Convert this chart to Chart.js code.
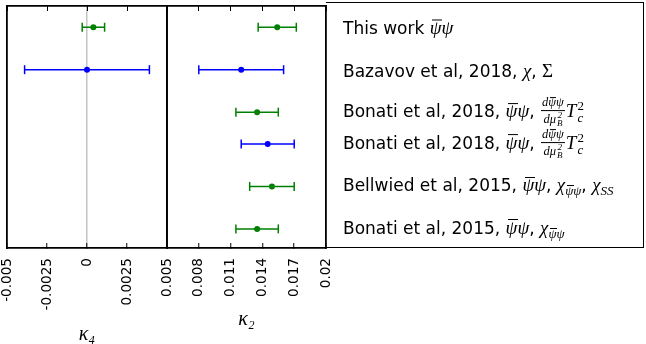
<!DOCTYPE html>
<html>
<head>
<meta charset="utf-8">
<script src="https://cdn.jsdelivr.net/npm/chart.js@4.4.1/dist/chart.umd.min.js"></script>
<style>
  html, body { margin: 0; padding: 0; background: #fff; }
  #wrap { position: relative; width: 646px; height: 344px; background: #fff; overflow: hidden; }
  canvas { position: absolute; top: 0; }
  #box { position: absolute; left: 325.5px; top: 2.2px; width: 317px; height: 244.2px;
         border: 1.8px solid #000; border-left: none; }
  .lab { position: absolute; left: 343px; font-family: 'DejaVu Sans', sans-serif; font-size: 17px;
         color: #000; white-space: nowrap; line-height: 1; transform: translateY(-50%); }
  .m { font-family: 'Liberation Serif', 'DejaVu Serif', serif; font-style: italic; font-size: 19px; }
  .up { font-family: 'Liberation Serif', 'DejaVu Serif', serif; font-style: normal; font-size: 19px; }
  .ov { position: relative; display: inline-block; }
  .ov::before { content: ''; position: absolute; left: 0.12em; right: -0.02em; top: 0.08em; border-top: 1px solid #000; }
  .frac { display: inline-block; vertical-align: middle; text-align: center; font-size: 12.5px; line-height: 1.1;
          font-family: 'Liberation Serif', 'DejaVu Serif', serif; font-style: italic; margin: 0 1px; }
  .frac .num { display: block; border-bottom: 1px solid #000; padding: 0 1px; }
  .frac .den { display: block; padding: 0 1px; }
  .ss { display: inline-flex; flex-direction: column; vertical-align: middle; font-size: 13px; line-height: 0.95;
        font-family: 'Liberation Serif', 'DejaVu Serif', serif; margin-left: 1px; }
  .ss.sm { font-size: 9px; }
  .sb { font-size: 13px; vertical-align: -4px; font-family: 'Liberation Serif', 'DejaVu Serif', serif; font-style: italic; }
</style>
</head>
<body>
<div id="wrap">
  <canvas id="c1" width="190" height="344" style="left:0px"></canvas>
  <canvas id="c2" width="200" height="344" style="left:150px"></canvas>
  <div id="box"></div>
</div>
<script>
// ---- data ----
const rowNames = ['This work', 'Bazavov et al, 2018', 'Bonati et al, 2018 (a)', 'Bonati et al, 2018 (b)', 'Bellwied et al, 2015', 'Bonati et al, 2015'];
const rowPos = [5.2, 4.2, 3.2, 2.45, 1.45, 0.45];
const rowColors = ['#008000', '#0000ff', '#008000', '#0000ff', '#008000', '#008000'];
const rowLabels = [
  'This work <span class="m"><span class="ov">ψ</span>ψ</span>',
  'Bazavov et al, 2018, <span class="m">χ</span>, <span class="up">Σ</span>',
  'Bonati et al, 2018, <span class="m"><span class="ov">ψ</span>ψ</span>, <span class="frac"><span class="num">d<span class="ov">ψ</span>ψ</span><span class="den">dμ<span class="ss sm"><span>2</span><span>B</span></span></span></span><span class="m">T</span><span class="ss"><span>2</span><span><i>c</i></span></span>',
  'Bonati et al, 2018, <span class="m"><span class="ov">ψ</span>ψ</span>, <span class="frac"><span class="num">d<span class="ov">ψ</span>ψ</span><span class="den">dμ<span class="ss sm"><span>2</span><span>B</span></span></span></span><span class="m">T</span><span class="ss"><span>2</span><span><i>c</i></span></span>',
  'Bellwied et al, 2015, <span class="m"><span class="ov">ψ</span>ψ</span>, <span class="m">χ</span><span class="sb"><span class="ov">ψ</span>ψ</span>, <span class="m">χ</span><span class="sb">SS</span>',
  'Bonati et al, 2015, <span class="m"><span class="ov">ψ</span>ψ</span>, <span class="m">χ</span><span class="sb"><span class="ov">ψ</span>ψ</span>'
];
// kappa_4 (null = no value)
const k4Value = [0.0004, 0.0, null, null, null, null];
const k4Err   = [0.0007, 0.0039, null, null, null, null];
// kappa_2
const k2Value = [0.0154, 0.0120, 0.0135, 0.0145, 0.0149, 0.0135];
const k2Err   = [0.0018, 0.0040, 0.0020, 0.0025, 0.0021, 0.0020];
const k4Ticks = [-0.005, -0.0025, 0, 0.0025, 0.005];
const k4TickLabels = ['-0.005', '-0.0025', '0', '0.0025', '0.005'];
const k2Ticks = [0.005, 0.008, 0.011, 0.014, 0.017, 0.02];
const k2TickLabels = ['0.005', '0.008', '0.011', '0.014', '0.017', '0.02'];
const yMin = 0, yMax = 5.7;

// ---- helpers ----
function buildDatasets(values, errs) {
  const ds = [];
  const ptsByColor = {};
  values.forEach((v, i) => {
    if (v === null) return;
    const c = rowColors[i];
    ds.push({
      type: 'scatter', showLine: true,
      data: [{x: v - errs[i], y: rowPos[i]}, {x: v + errs[i], y: rowPos[i]}],
      borderColor: c, borderWidth: 1.5,
      pointStyle: 'line', rotation: 90, pointRadius: 4.5,
      pointBorderColor: c, pointBorderWidth: 1.5, pointBackgroundColor: c
    });
    (ptsByColor[c] = ptsByColor[c] || []).push({x: v, y: rowPos[i]});
  });
  Object.keys(ptsByColor).forEach(c => {
    ds.push({
      type: 'scatter', data: ptsByColor[c], showLine: false,
      pointStyle: 'circle', pointRadius: 3, pointBackgroundColor: c, pointBorderColor: c, pointBorderWidth: 0
    });
  });
  return ds;
}

function makeChart(id, values, errs, min, max, ticks, tickLabels, title, pad, titlePadBottom, zeroLine, skipValue) {
  const tickFont = {family: 'DejaVu Sans', size: 13.6};
  const setTicks = (vals) => (scale) => { scale.ticks = vals.map(v => ({value: v})); };
  const bw = 1.8;
  return new Chart(document.getElementById(id), {
    data: {datasets: buildDatasets(values, errs)},
    options: {
      responsive: false, animation: false, events: [], devicePixelRatio: 1,
      layout: {padding: pad},
      plugins: {legend: {display: false}, tooltip: {enabled: false}},
      scales: {
        x: {
          type: 'linear', position: 'bottom', min: min, max: max,
          afterBuildTicks: setTicks(ticks),
          afterFit: (s) => { s.height = 96; s.paddingLeft = 0; s.paddingRight = 0; },
          ticks: {
            autoSkip: false, minRotation: 90, maxRotation: 90, padding: 15, color: '#000', font: tickFont,
            callback: (v) => {
              if (skipValue !== null && Math.abs(v - skipValue) < 1e-12) return '';
              const k = ticks.findIndex(t => Math.abs(t - v) < 1e-9); return k >= 0 ? tickLabels[k] : '';
            }
          },
          grid: {
            drawOnChartArea: true, drawTicks: true, tickLength: -5, tickColor: '#000', tickWidth: 1,
            color: (ctx) => (zeroLine && ctx.tick && Math.abs(ctx.tick.value) < 1e-12) ? '#c4c4c4' : 'rgba(0,0,0,0)',
            lineWidth: 1.5
          },
          border: {display: true, color: '#000', width: bw},
          title: {display: true, text: title, color: '#000',
                  font: {family: 'Liberation Serif', style: 'italic', size: 20, lineHeight: 0.9},
                  padding: {top: 0, bottom: titlePadBottom}}
        },
        xTop: {
          type: 'linear', position: 'top', min: min, max: max,
          afterBuildTicks: setTicks(ticks),
          afterFit: (s) => { s.height = 0; s.paddingLeft = 0; s.paddingRight = 0; },
          ticks: {display: false},
          grid: {drawOnChartArea: false, drawTicks: true, tickLength: -5, tickColor: '#000', tickWidth: 1},
          border: {display: true, color: '#000', width: bw}
        },
        y: {
          type: 'linear', position: 'left', min: yMin, max: yMax,
          afterFit: (s) => { s.width = 0; },
          ticks: {display: false}, grid: {display: false, drawTicks: false},
          border: {display: true, color: '#000', width: bw}
        },
        yRight: {
          type: 'linear', position: 'right', min: yMin, max: yMax,
          afterFit: (s) => { s.width = 0; },
          ticks: {display: false}, grid: {display: false, drawTicks: false},
          border: {display: true, color: '#000', width: bw}
        }
      }
    }
  });
}

const chartL = makeChart('c1', k4Value, k4Err, -0.005, 0.005, k4Ticks, k4TickLabels, 'κ₄',
  {left: 7, right: 23, top: 2.5, bottom: 0}, 0, true, null);
// the shared boundary label (0.005) is drawn once, by the left panel
const chartR = makeChart('c2', k2Value, k2Err, 0.005, 0.02, k2Ticks, k2TickLabels, 'κ₂',
  {left: 17, right: 24, top: 2.5, bottom: 0}, 15, false, k4Ticks[k4Ticks.length - 1]);

// row labels placed at the rows of the right panel's y scale
const wrap = document.getElementById('wrap');
const yScale = chartR.scales.y;
rowLabels.forEach((html, i) => {
  const d = document.createElement('div');
  d.className = 'lab';
  d.innerHTML = html;
  d.style.top = yScale.getPixelForValue(rowPos[i]) + 'px';
  wrap.appendChild(d);
});
</script>
</body>
</html>
